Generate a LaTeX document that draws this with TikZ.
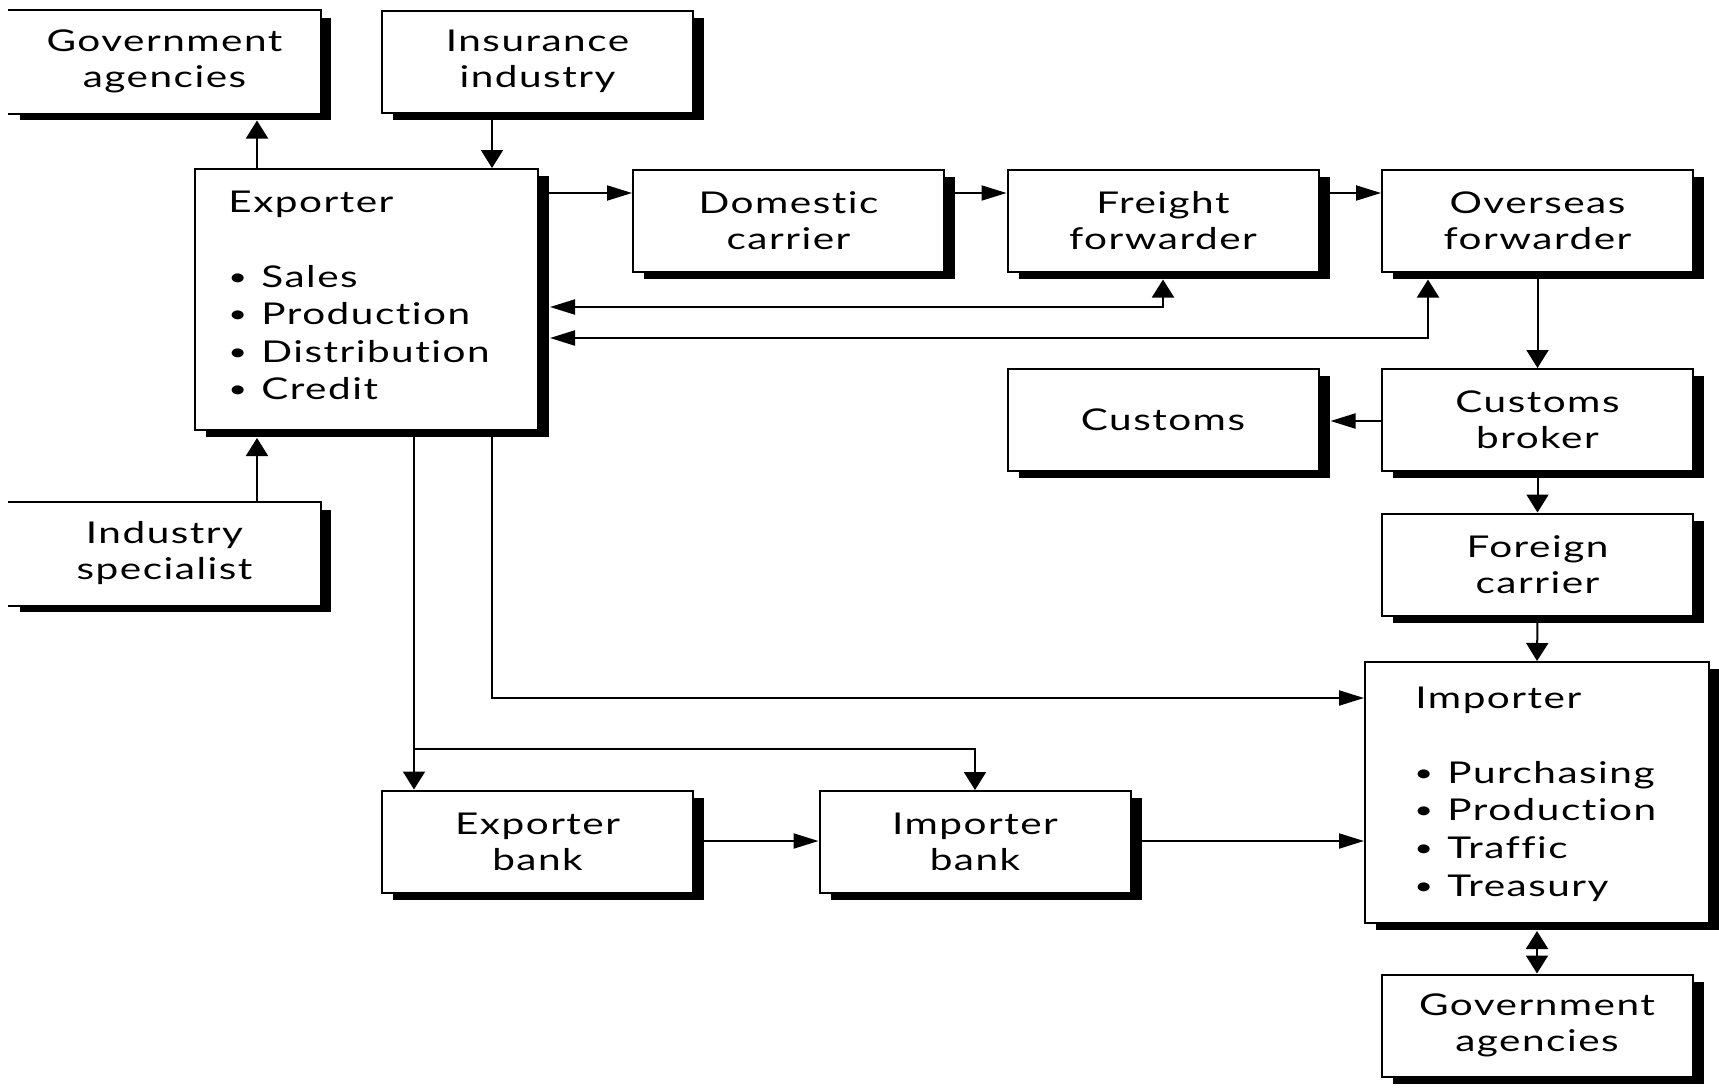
\documentclass[tikz,border=0pt]{standalone}
\usepackage{fontspec}
\setmainfont{Lato}[FakeStretch=1.35,LetterSpace=5,Ligatures=NoCommon]
\usetikzlibrary{arrows.meta,shadows}
\newcommand\fsz{\fontsize{15}{18}\selectfont}
\newcommand\blt[1]{\makebox[#1][l]{\raisebox{1pt}{\scalebox{0.8}{•}}}}
\tikzset{
  x=0.5pt, y=-0.5pt,
  ht/.tip={Triangle[length=12.5pt,width=7.5pt]},
  vt/.tip={Triangle[length=9pt,width=11pt]},
  shad/.style={drop shadow={shadow xshift=5.5pt, shadow yshift=-3.5pt, fill=black, opacity=1}},
  box/.style={draw=black, line width=1pt, fill=white, minimum width=155.5pt,
    minimum height=51pt, inner sep=0pt, align=center, font=\fsz, shad},
  bigbox/.style={box, minimum width=172pt, minimum height=130.5pt},
  openbox/.style={box, draw=none},
  txt/.style={inner sep=0pt, font=\fsz, anchor=base west},
  ln/.style={line width=1pt},
  ha/.style={ln, -ht},
  va/.style={ln, -vt},
}
\begin{document}
\begin{tikzpicture}
\useasboundingbox (0,0) rectangle (1719,1088);
% boxes
\node[openbox] (govA) at (164.5,61.5) {Government\\agencies};
\draw[ln] (govA.north west) -- (govA.north east) -- (govA.south east) -- (govA.south west);
\node[box] (insur) at (537.5,61.5) {Insurance\\industry};
\node[bigbox, minimum width=171.5pt] (exporter) at (366.5,299.5) {};
\node[box] (domc) at (788.5,220.5) {Domestic\\carrier};
\node[box] (freight) at (1163,220.5) {Freight\\forwarder};
\node[box] (overseas) at (1537.5,220.5) {Overseas\\forwarder};
\node[box] (customs) at (1163,420) {Customs};
\node[box] (broker) at (1537.5,420) {Customs\\broker};
\node[box] (foreign) at (1537.5,564.5) {Foreign\\carrier};
\node[bigbox] (importer) at (1537,792.5) {};
\node[box] (govB) at (1537,1025.5) {Government\\agencies};
\node[openbox] (indsp) at (164.5,553.5) {Industry\\specialist};
\draw[ln] (indsp.north west) -- (indsp.north east) -- (indsp.south east) -- (indsp.south west);
\node[box] (expbank) at (537.5,841.5) {Exporter\\bank};
\node[box] (impbank) at (975,842) {Importer\\bank};
% box texts
\node[txt] (e0) at (228,212) {Exporter};
\node[txt] (e1) at (228,287) {\blt{16.5pt}Sales};
\node[txt] (e2) at (228,324) {\blt{16.5pt}Production};
\node[txt] (e3) at (228,362) {\blt{16.5pt}Distribution};
\node[txt] (e4) at (228,399) {\blt{16.5pt}Credit};
\node[txt] (i0) at (1415,708) {Importer};
\node[txt] (i1) at (1414,783) {\blt{16.5pt}Purchasing};
\node[txt] (i2) at (1414,820) {\blt{16.5pt}Production};
\node[txt] (i3) at (1414,858) {\blt{16.5pt}Traffic};
\node[txt] (i4) at (1414,896) {\blt{16.5pt}Treasury};
% helper coordinates
\coordinate (xa) at (257,0);
\coordinate (xb) at (492,0);
\coordinate (xd) at (414,0);
\coordinate (xo) at (1428,0);
\coordinate (yr) at (0,193);
\coordinate (y1) at (0,307);
\coordinate (y2) at (0,338);
\coordinate (yc) at (0,421);
\coordinate (yi) at (0,698);
\coordinate (yk) at (0,841);
\coordinate (branch) at (414,749);
% connectors
\draw[va, shorten >=3.5pt] (exporter.north -| xa) -- (govA.south -| xa);
\draw[va] (insur.south -| xb) -- (exporter.north -| xb);
\draw[ha] (exporter.east |- yr) -- (domc.west |- yr);
\draw[ha] (domc.east |- yr) -- (freight.west |- yr);
\draw[ha] (freight.east |- yr) -- (overseas.west |- yr);
\draw[ln, ht-vt, shorten <=5.5pt, shorten >=3.5pt] (exporter.east |- y1) -| (freight.south);
\draw[ln, ht-vt, shorten <=5.5pt, shorten >=3.5pt] (exporter.east |- y2) -| (overseas.south -| xo);
\draw[va] (overseas.south) -- (broker.north);
\draw[ha, shorten >=5.5pt] (broker.west |- yc) -- (customs.east |- yc);
\draw[va] (broker.south) -- (foreign.north);
\draw[va] (foreign.south) -- (importer.north);
\draw[ln, vt-vt, shorten <=3.5pt] (importer.south) -- (govB.north);
\draw[va, shorten >=3.5pt] (indsp.north -| xa) -- (exporter.south -| xa);
\draw[va] (exporter.south -| xd) -- (expbank.north -| xd);
\draw[va] (branch) -| (impbank.north);
\draw[ha] (exporter.south -| xb) |- (importer.west |- yi);
\draw[ha] (expbank.east |- yk) -- (impbank.west |- yk);
\draw[ha] (impbank.east |- yk) -- (importer.west |- yk);
\end{tikzpicture}
\end{document}
